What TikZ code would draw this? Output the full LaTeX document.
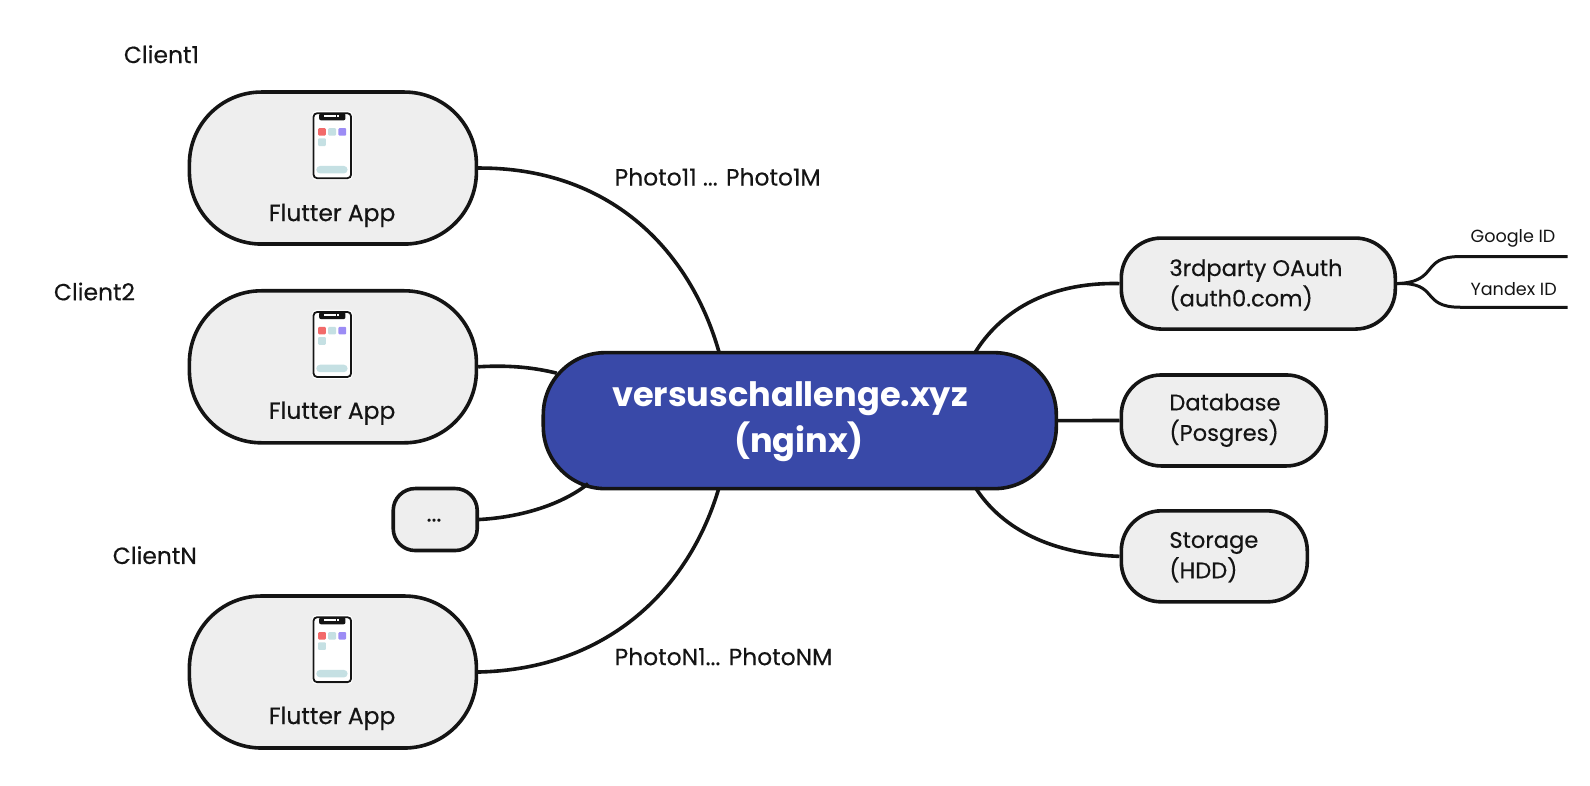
\documentclass[tikz,border=0pt]{standalone}
\usepackage{fontspec}
\setmainfont{Poppins}
\newfontfamily\medfont[RawFeature={embolden=0.35}]{Poppins}
\definecolor{boxfill}{HTML}{EEEEEE}
\definecolor{hubblue}{HTML}{3949A8}
\definecolor{ink}{HTML}{141414}
\definecolor{tealsq}{HTML}{C5E0E3}
\definecolor{redsq}{HTML}{F26A6A}
\definecolor{purplesq}{HTML}{9C8CF5}
\tikzset{
  x=1.01403pt,y=-1.01403pt,
  pill/.style={draw=ink,fill=boxfill,line width=3.6pt,rounded corners=#1,inner sep=0pt,anchor=north west},
  boxtext/.style={font=\medfont\fontsize{22.6}{30.4}\selectfont,text=ink,align=left,inner sep=0pt},
  freetext/.style={font=\medfont\fontsize{23.4}{30}\selectfont,text=ink,align=left,inner sep=0pt},
  midtext/.style={font=\medfont\fontsize{23.4}{30}\selectfont,text=ink,align=center,inner sep=0pt},
  smalltext/.style={font=\fontsize{17.6}{20}\selectfont,text=ink,inner sep=0pt},
  hubtext/.style={font=\fontsize{33.6}{46.5}\selectfont\bfseries,text=white,align=center,inner sep=0pt},
  link/.style={draw=ink,line width=3.6pt},
  thin link/.style={draw=ink,line width=3pt},
  pics/phone/.style={code={
    \fill[white,rounded corners=4pt] (-20,-34) rectangle (20,34);
    \draw[ink,fill=white,line width=1.8pt,rounded corners=3.5pt] (-18.5,-32) rectangle (18.5,32);
    \fill[ink,rounded corners=2pt] (-13,-32) rectangle (13,-25);
    \fill[white] (-8,-30) rectangle (3.5,-28);
    \fill[white] (5,-30) rectangle (7,-28);
    \fill[redsq,rounded corners=1pt] (-14,-17.3) rectangle (-6.3,-10);
    \fill[tealsq,rounded corners=1pt] (-4,-17.3) rectangle (3.7,-10);
    \fill[purplesq,rounded corners=1pt] (6,-17.3) rectangle (13.7,-10);
    \fill[tealsq,rounded corners=1pt] (-14,-7.3) rectangle (-6.3,0.3);
    \fill[tealsq,rounded corners=3.5pt] (-15.7,20) rectangle (15,27.3);
  }}
}
\begin{document}
\begin{tikzpicture}
\useasboundingbox (0,0) rectangle (1568,775.1);
% connection ports
\coordinate (pA) at (709,347);
\coordinate (pB) at (549,368);
\coordinate (pC) at (580,477);
\coordinate (pD) at (709,481);
\coordinate (pE) at (962,347);
\coordinate (pF) at (962,481);
\coordinate (gEnd) at (1546,253);
\coordinate (yEnd) at (1546,303);
% nodes
\node[pill=72pt,minimum width=287pt,minimum height=152pt] (c1) at (185,89) {};
\node[pill=72pt,minimum width=287pt,minimum height=152pt] (c2) at (185,285) {};
\node[pill=72pt,minimum width=287pt,minimum height=152pt] (c3) at (185,586) {};
\node[pill=22pt,minimum width=84pt,minimum height=62pt] (dots) at (386,480) {};
\node[pill=62pt,minimum width=513pt,minimum height=136pt,fill=hubblue] (hub) at (534,346) {};
\node[pill=40pt,minimum width=274pt,minimum height=91pt] (auth) at (1104,233) {};
\node[pill=40pt,minimum width=205pt,minimum height=91pt] (db) at (1104,368) {};
\node[pill=40pt,minimum width=186pt,minimum height=91pt] (st) at (1104,502) {};
% connectors
\draw[link] (c1.east) .. controls (600,165) and (680,245) .. (pA);
\draw[link] (c2.east) .. controls (500,360) and (525,362) .. (pB);
\draw[link] (dots.east) .. controls (515,510) and (555,497) .. (pC);
\draw[link] (c3.east) .. controls (600,660) and (680,580) .. (pD);
\draw[link] (auth.west) .. controls (1030,278) and (985,310) .. (pE);
\draw[link] (hub.east) -- (db.west);
\draw[link] (st.west) .. controls (1030,546) and (985,517) .. (pF);
\draw[thin link] (auth.east) .. controls (1420,278) and (1400,253) .. (1440,253) -- (gEnd);
\draw[thin link] (auth.east) .. controls (1420,278) and (1400,303) .. (1440,303) -- (yEnd);
% phones
\pic at (327.7,143.7) {phone};
\pic at (327.7,339.7) {phone};
\pic at (327.7,640.7) {phone};
% texts
\node[midtext] (t1) at (327.5,212.5) {Flutter App};
\node[midtext] (t2) at (327.5,407.5) {Flutter App};
\node[midtext] (t3) at (327.5,708.5) {Flutter App};
\node[midtext] (tdots) at (428,513) {...};
\node[hubtext] (thub) at (779,416) {versuschallenge.xyz\\\hspace*{18pt}(nginx)};
\node[boxtext,anchor=west] (ta) at (1153,281) {3rdparty OAuth\\(auth0.com)};
\node[boxtext,anchor=west] (tb) at (1153,414.5) {Database\\(Posgres)};
\node[boxtext,anchor=west] (tc) at (1153,549.5) {Storage\\(HDD)};
\node[freetext,anchor=west] (l1) at (122,53.5) {Client1};
\node[freetext,anchor=west] (l2) at (53,287.5) {Client2};
\node[freetext,anchor=west] (l3) at (111,547.5) {ClientN};
\node[freetext,anchor=west] (p1) at (606,174.5) {Photo11 ... Photo1M};
\node[freetext,anchor=west] (p2) at (606,647.5) {PhotoN1... PhotoNM};
\node[smalltext,anchor=west] (g) at (1450,235) {Google ID};
\node[smalltext,anchor=west] (y) at (1450,285) {Yandex ID};
\end{tikzpicture}
\end{document}
